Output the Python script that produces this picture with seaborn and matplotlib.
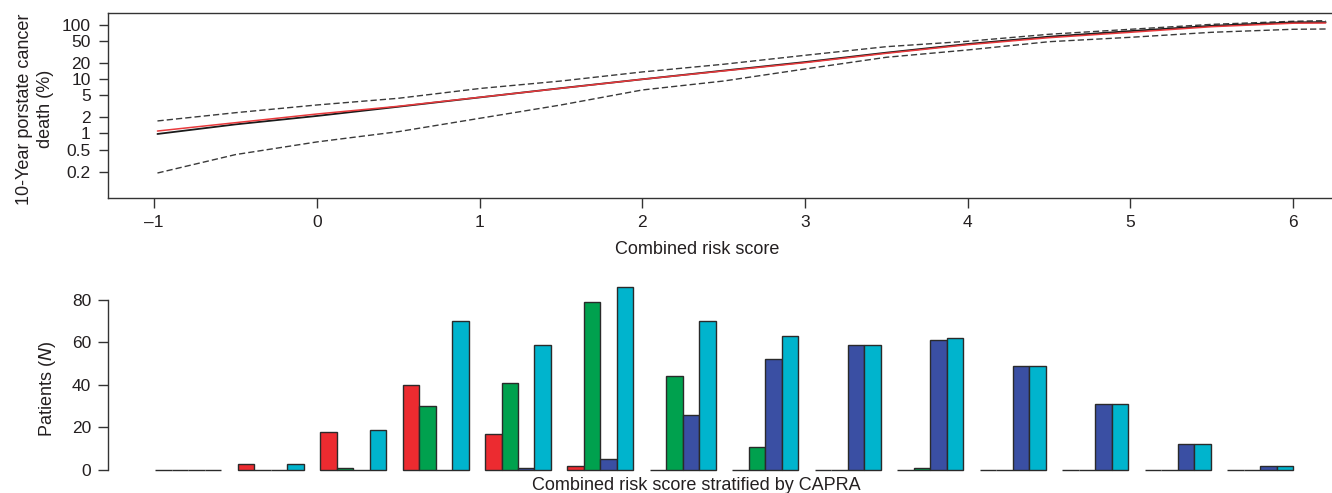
import numpy as np
import pandas as pd
import matplotlib
matplotlib.use("Agg")
import matplotlib.pyplot as plt
import seaborn as sns

# ---------------- data ----------------
# Top panel: 10-year prostate cancer death (%) vs combined risk score
score = [-0.98, -0.5, 0.0, 0.5, 1.0, 1.5, 2.0, 2.5, 3.0, 3.5, 4.0, 4.5, 5.0, 5.5, 6.0, 6.2]
predicted = [1.11, 1.58, 2.28, 3.16, 4.62, 6.76, 9.9, 14.1, 20.0, 29.7, 42.7, 57.5, 72.2, 91.5, 106, 107]
observed = [0.98, 1.47, 2.10, 3.10, 4.60, 6.80, 9.9, 14.3, 20.5, 30.5, 44.0, 60.0, 76.0, 95.0, 110, 111]
upper_ci = [1.70, 2.41, 3.34, 4.43, 6.7, 9.2, 13.5, 18.7, 27.3, 39.3, 49.4, 66.4, 82, 101, 115, 118]
lower_ci = [0.188, 0.41, 0.70, 1.08, 1.90, 3.34, 6.3, 9.2, 15.3, 25.1, 34.2, 48.5, 58.4, 72.2, 82, 83]

top_xticks = [-1, 0, 1, 2, 3, 4, 5, 6]
top_yticks = [0.2, 0.5, 1, 2, 5, 10, 20, 50, 100]
top_yticklabels = ["0.2", "0.5", "1", "2", "5", "10", "20", "50", "100"]

# Bottom panel: patients per combined-risk-score bin, stratified by CAPRA
bins = [f"bin{i + 1}" for i in range(14)]
capra_low = [0, 3, 18, 40, 17, 2, 0, 0, 0, 0, 0, 0, 0, 0]
capra_mid = [0, 0, 1, 30, 41, 79, 44, 11, 0, 1, 0, 0, 0, 0]
capra_high = [0, 0, 0, 0, 1, 5, 26, 52, 59, 61, 49, 31, 12, 2]
capra_all = [0, 3, 19, 70, 59, 86, 70, 63, 59, 62, 49, 31, 12, 2]
groups = ["CAPRA low", "CAPRA intermediate", "CAPRA high", "All"]
bottom_yticks = [0, 20, 40, 60, 80]

# ---------------- styling ----------------
sns.set_theme(style="ticks")
plt.rcParams["font.family"] = ["Liberation Sans", "DejaVu Sans"]
TXT = "#231f20"
AX = "#333333"
plt.rcParams.update({
    "text.color": TXT, "axes.labelcolor": TXT,
    "xtick.color": AX, "ytick.color": AX,
    "xtick.labelcolor": TXT, "ytick.labelcolor": TXT,
    "axes.edgecolor": AX, "axes.linewidth": 1.0,
})
palette = ["#ec2b30", "#00a14e", "#3a4fa3", "#00b4cd"]
TICK_FS = 12.5
LAB_FS = 13

W, H = 1332, 493
fig = plt.figure(figsize=(W / 100, H / 100), dpi=100)

# ---------------- top panel ----------------
ax1 = fig.add_axes([108 / W, 1 - 197.7 / H, 1230 / W, (197.7 - 13.3) / H])
df_top = pd.DataFrame({"score": score, "pred": predicted, "obs": observed,
                       "up": upper_ci, "lo": lower_ci})
dash = (0, (4.5, 2.2))
sns.lineplot(data=df_top, x="score", y="up", ax=ax1, color="#3a3a3a", lw=1.0, linestyle=dash)
sns.lineplot(data=df_top, x="score", y="lo", ax=ax1, color="#3a3a3a", lw=1.0, linestyle=dash)
sns.lineplot(data=df_top, x="score", y="obs", ax=ax1, color="#1a1a1a", lw=1.3)
sns.lineplot(data=df_top, x="score", y="pred", ax=ax1, color="#e8393c", lw=1.1)
ax1.set_yscale("log")
ax1.set_ylim(0.0662, 161.2)
ax1.set_xlim(-1.284, 6.276)
ax1.set_yticks(top_yticks)
ax1.set_yticklabels(top_yticklabels)
ax1.yaxis.set_minor_locator(matplotlib.ticker.NullLocator())
ax1.set_xticks(top_xticks)
ax1.set_xticklabels([f"{v}".replace("-", "\u2013") for v in top_xticks])
ax1.tick_params(axis="x", length=7.5, width=1, pad=5, labelsize=TICK_FS)
ax1.tick_params(axis="y", length=6.5, width=1, pad=6, labelsize=TICK_FS)
ax1.spines["right"].set_visible(False)
ax1.set_xlabel("Combined risk score", fontsize=LAB_FS)
ax1.xaxis.set_label_coords((697 - 108) / 1230, -(250 - 197.7) / 184.4)
ax1.xaxis.label.set_va("center")
ax1.set_ylabel("10-Year porstate cancer\ndeath (%)", fontsize=LAB_FS, linespacing=1.3)
ax1.yaxis.set_label_coords((54 - 108) / 1230, (197.7 - 109) / 184.4)

# ---------------- bottom panel ----------------
ax2 = fig.add_axes([108 / W, 1 - 470 / H, 1230 / W, 190 / H])
df_bot = pd.DataFrame({
    "bin": np.repeat(bins, 4),
    "group": groups * len(bins),
    "n": np.column_stack([capra_low, capra_mid, capra_high, capra_all]).ravel(),
})
sns.barplot(data=df_bot, x="bin", y="n", hue="group", order=bins, hue_order=groups,
            palette=palette, edgecolor="#2a2a2a", linewidth=1.0, errorbar=None,
            legend=False, ax=ax2, saturation=1)
for p in ax2.patches:
    p.set_clip_on(False)
ax2.set_xlim(-0.97, 13.94)
ax2.set_ylim(0, 89.4)
ax2.set_yticks(bottom_yticks)
ax2.tick_params(axis="y", length=7, width=1, pad=5, labelsize=TICK_FS)
ax2.set_xticks([])
for s in ["top", "right", "bottom"]:
    ax2.spines[s].set_visible(False)
ax2.spines["left"].set_bounds(0, 80)
ax2.set_xlabel("")
ax2.set_ylabel("Patients ($\\mathit{N}$)", fontsize=LAB_FS)
ax2.yaxis.set_label_coords((58 - 108) / 1230, (470 - 388.5) / 190)
fig.text(696 / W, 1 - 485 / H, "Combined risk score stratified by CAPRA",
         ha="center", va="center", fontsize=LAB_FS, color=TXT)

fig.savefig("out.png", dpi=100)
